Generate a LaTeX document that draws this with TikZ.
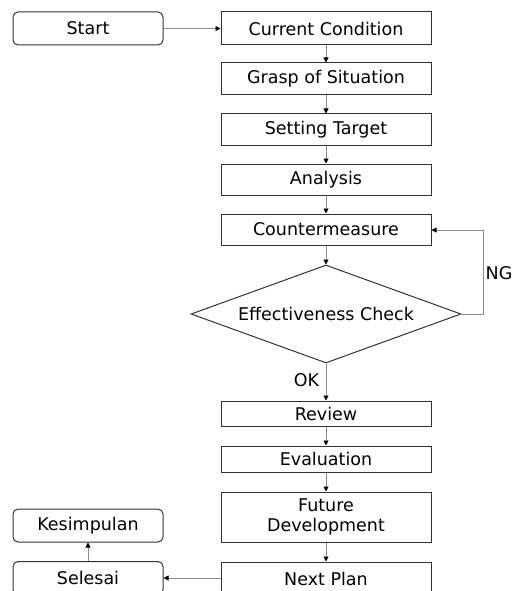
\documentclass[tikz,border=0pt]{standalone}
\usepackage{fontspec}
\setmainfont{DejaVu Sans}
\usetikzlibrary{
    positioning,
    arrows.meta,
    shapes.geometric
}
\definecolor{BoxLine}{RGB}{50,50,50}
\definecolor{LinkGray}{RGB}{140,140,140}

\begin{document}
\begin{tikzpicture}[
            x=1pt, y=-1pt,
            font=\fontsize{17.5}{20}\selectfont,
            >={Triangle[length=5pt,width=5pt,color=black]},
            procbox/.style={draw=BoxLine, line width=1pt, minimum width=210pt, inner sep=0pt, align=center},
            termbox/.style={draw=BoxLine, line width=1pt, rounded corners=5pt, minimum width=150pt, minimum height=33pt, inner sep=0pt},
            checkbox/.style={draw=BoxLine, line width=1pt, diamond, aspect=2.75, inner sep=0pt, minimum width=270pt, minimum height=98pt},
            link/.style={draw=LinkGray, line width=0.9pt, ->},
        ]

        % canvas
        \useasboundingbox (0,0) rectangle (513,591);
        \clip (0,0) rectangle (513,591);

        % terminals on the left
        \node[termbox] (start) at (88,28.5) {Start};
        \node[termbox] (kesimpulan) at (88,525.5) {Kesimpulan};
        \node[termbox] (selesai) at (88,578) {Selesai};

        % main column
        \node[procbox, minimum height=33pt] (current) at (326,28.5) {Current Condition};
        \node[procbox, minimum height=32pt] (grasp) at (326,79) {Grasp of Situation};
        \node[procbox, minimum height=31pt] (target) at (326,129.5) {Setting Target};
        \node[procbox, minimum height=31pt] (analysis) at (326,179.5) {Analysis};
        \node[procbox, minimum height=31pt] (counter) at (326,229.5) {Countermeasure};
        \node[checkbox] (check) at (326,314) {Effectiveness Check};
        \node[procbox, minimum height=25pt] (review) at (326,413.5) {Review};
        \node[procbox, minimum height=26pt] (evaluation) at (326,459) {Evaluation};
        \node[procbox, minimum height=50pt] (future) at (326,517) {Future\\Development};
        \node[procbox, minimum height=33pt] (nextplan) at (326,578.5) {Next Plan};

        % loop corners
        \coordinate (ngA) at (483,314);
        \coordinate (ngB) at (483,230);

        % connectors
        \draw[link] (start) -- (current);
        \draw[link] (current) -- (grasp);
        \draw[link] (grasp) -- (target);
        \draw[link] (target) -- (analysis);
        \draw[link] (analysis) -- (counter);
        \draw[link] (counter) -- (check);
        \draw[link] (check) -- (review) node[pos=0.45, left=3pt] (ok) {OK};
        \draw[link] (check.east) -- (ngA) -- (ngB) -- (counter.east |- ngB);
        \node[anchor=west, inner sep=0pt] (ng) at (485.5,273) {NG};
        \draw[link] (review) -- (evaluation);
        \draw[link] (evaluation) -- (future);
        \draw[link] (future) -- (nextplan);
        \draw[link] (nextplan.west |- selesai) -- (selesai);
        \draw[link] (selesai) -- (kesimpulan);
\end{tikzpicture}
\end{document}
